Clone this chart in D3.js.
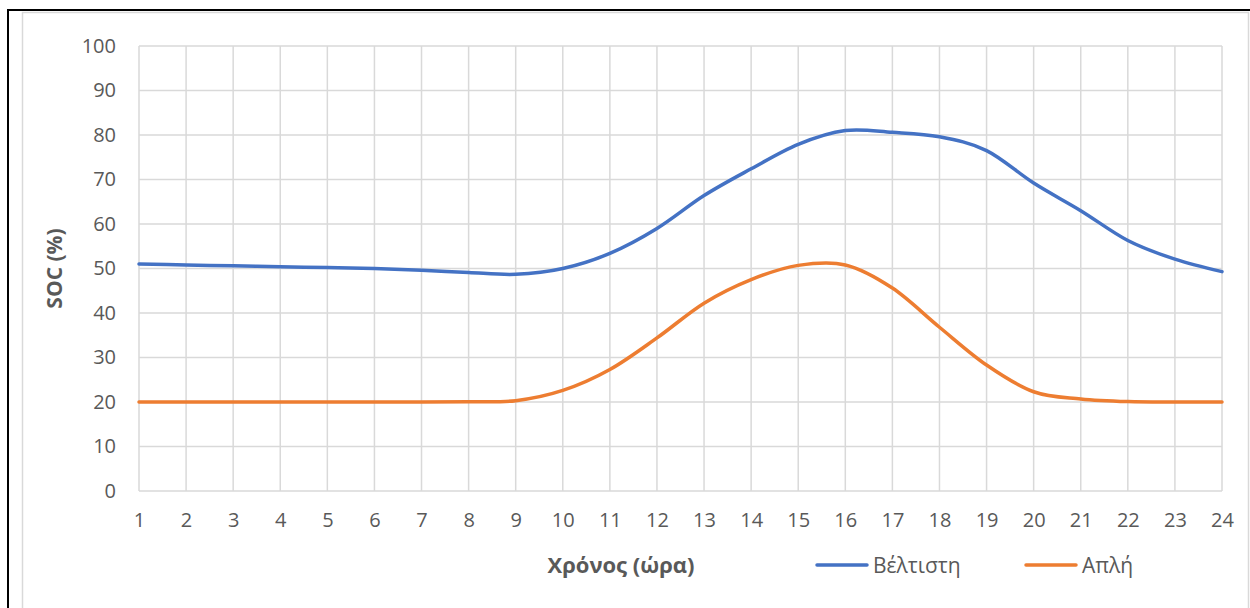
<!DOCTYPE html>
<html>
<head>
<meta charset="utf-8">
<script src="https://cdn.jsdelivr.net/npm/d3@7"></script>
<style>
  html, body { margin: 0; padding: 0; background: #fff; }
  svg { display: block; font-family: "Open Sans", "Noto Sans", sans-serif; }
</style>
</head>
<body>
<div id="chart"></div>
<script>
// hours on the x axis
const hours = d3.range(1, 25);
const yTicks = d3.range(0, 101, 10);

// SOC values (%)
const optimal = [51, 50.8, 50.6, 50.4, 50.2, 50, 49.6, 49.1, 48.7, 50, 53.4, 59, 66.4, 72.4, 77.9, 81, 80.6, 79.6, 76.5, 69.2, 63, 56.3, 52.1, 49.3];
const simple = [20, 20, 20, 20, 20, 20, 20, 20.05, 20.3, 22.6, 27.3, 34.4, 42.2, 47.5, 50.7, 50.8, 45.6, 36.8, 28.3, 22.3, 20.7, 20.1, 20, 20];

const seriesNames = ["Βέλτιστη", "Απλή"];
const colors = ["#4472C4", "#ED7D31"];

const width = 1250, height = 608;
const margin = { left: 139, right: 28, top: 46, bottom: 117 };

const svg = d3.select("#chart")
  .append("svg")
  .attr("width", width)
  .attr("height", height);

// outer frame: chart area border + black page lines
svg.append("rect")
  .attr("x", 22.5).attr("y", 12.5)
  .attr("width", 1226).attr("height", 620)
  .attr("fill", "none")
  .attr("stroke", "#d9d9d9")
  .attr("stroke-width", 1.5);
svg.append("line")
  .attr("x1", 8).attr("x2", 8).attr("y1", 9).attr("y2", height)
  .attr("stroke", "#000").attr("stroke-width", 2);
svg.append("line")
  .attr("x1", 7).attr("x2", width).attr("y1", 10).attr("y2", 10)
  .attr("stroke", "#000").attr("stroke-width", 2);

const x = d3.scaleLinear()
  .domain([1, 24])
  .range([margin.left, width - margin.right]);

const y = d3.scaleLinear()
  .domain([0, 100])
  .range([height - margin.bottom, margin.top]);

// gridlines
svg.append("g")
  .selectAll("line")
  .data(yTicks)
  .join("line")
  .attr("x1", x(1)).attr("x2", x(24))
  .attr("y1", d => y(d)).attr("y2", d => y(d))
  .attr("stroke", "#d9d9d9")
  .attr("stroke-width", 1.5);

svg.append("g")
  .selectAll("line")
  .data(hours)
  .join("line")
  .attr("x1", d => x(d)).attr("x2", d => x(d))
  .attr("y1", y(0)).attr("y2", y(100))
  .attr("stroke", "#d9d9d9")
  .attr("stroke-width", 1.5);

// axes
const yAxis = svg.append("g")
  .attr("transform", `translate(${x(1)},0)`)
  .call(d3.axisLeft(y).tickValues(yTicks).tickSize(0).tickPadding(23));
yAxis.select(".domain").remove();
yAxis.selectAll("text")
  .attr("fill", "#595959")
  .attr("font-size", 20)
  .attr("font-family", "Open Sans, Noto Sans, sans-serif");

const xAxis = svg.append("g")
  .attr("transform", `translate(0,${y(0)})`)
  .call(d3.axisBottom(x).tickValues(hours).tickFormat(d3.format("d")).tickSize(0).tickPadding(22));
xAxis.select(".domain").remove();
xAxis.selectAll("text")
  .attr("fill", "#595959")
  .attr("font-size", 20)
  .attr("font-family", "Open Sans, Noto Sans, sans-serif");

// axis titles
svg.append("text")
  .attr("transform", `translate(62,${(y(0) + y(100)) / 2}) rotate(-90)`)
  .attr("text-anchor", "middle")
  .attr("font-size", 21)
  .attr("font-weight", "bold")
  .attr("fill", "#595959")
  .text("SOC (%)");

svg.append("text")
  .attr("x", 621)
  .attr("y", 573)
  .attr("text-anchor", "middle")
  .attr("font-size", 22)
  .attr("font-weight", "bold")
  .attr("fill", "#595959")
  .text("Χρόνος (ώρα)");

// lines
const line = d3.line()
  .x((d, i) => x(hours[i]))
  .y(d => y(d))
  .curve(d3.curveCardinal.tension(0));

[optimal, simple].forEach((values, k) => {
  svg.append("path")
    .datum(values)
    .attr("d", line)
    .attr("fill", "none")
    .attr("stroke", colors[k])
    .attr("stroke-width", 3.5)
    .attr("stroke-linecap", "round");
});

// legend
const legendX = [817, 1026];
const legend = svg.append("g")
  .selectAll("g")
  .data(seriesNames)
  .join("g")
  .attr("transform", (d, i) => `translate(${legendX[i]},565)`);

legend.append("line")
  .attr("x1", 0).attr("x2", 50)
  .attr("stroke", (d, i) => colors[i])
  .attr("stroke-width", 3.5)
  .attr("stroke-linecap", "round");

legend.append("text")
  .attr("x", 56)
  .attr("y", 8)
  .attr("font-size", 21)
  .attr("fill", "#595959")
  .text(d => d);
</script>
</body>
</html>
